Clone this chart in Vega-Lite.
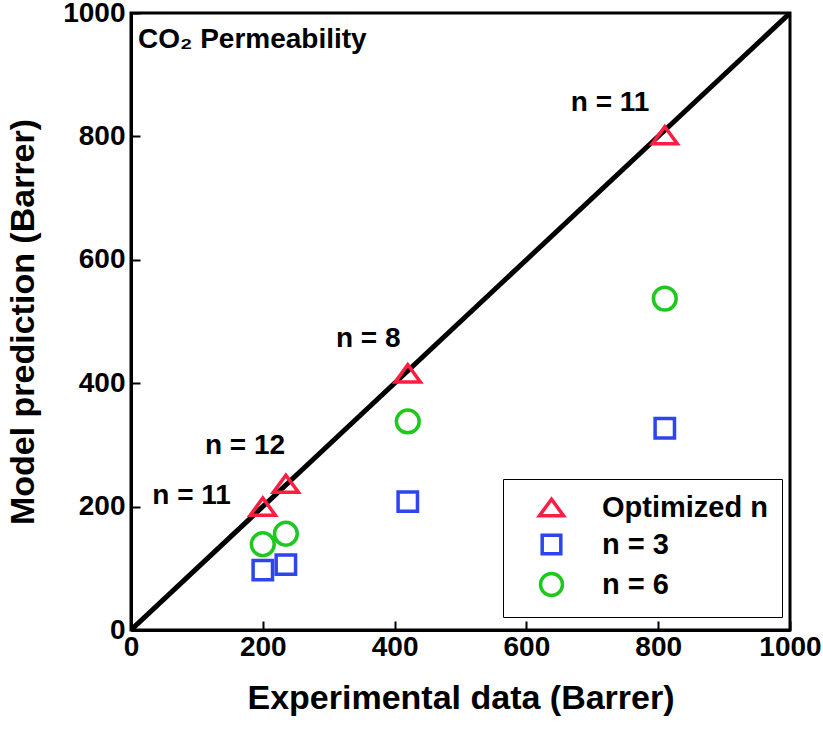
{
  "$schema": "https://vega.github.io/schema/vega-lite/v6.json",
  "width": 659,
  "height": 617,
  "autosize": {"type": "none"},
  "padding": {"left": 131, "top": 13, "right": 33, "bottom": 103},
  "background": "white",
  "config": {
    "font": "Liberation Sans",
    "view": {"stroke": "black", "strokeWidth": 3},
    "legend": {"strokeColor": "black", "fillColor": "white"},
    "axis": {
      "grid": false,
      "domainColor": "black",
      "domainWidth": 3,
      "tickColor": "black",
      "tickWidth": 2,
      "tickSize": -9,
      "labelFlush": false,
      "labelFont": "Liberation Sans",
      "labelFontWeight": "bold",
      "labelFontSize": 28,
      "labelColor": "black",
      "titleFont": "Liberation Sans",
      "titleFontWeight": "bold",
      "titleFontSize": 34,
      "titleColor": "black"
    }
  },
  "datasets": {
    "diag": [{"x": 0, "y": 0}, {"x": 1000, "y": 1000}],
    "pts": [
      {"exp": 200, "pred": 200, "series": "Optimized n"},
      {"exp": 235, "pred": 237, "series": "Optimized n"},
      {"exp": 420, "pred": 416, "series": "Optimized n"},
      {"exp": 810, "pred": 802, "series": "Optimized n"},
      {"exp": 200, "pred": 97, "series": "n = 3"},
      {"exp": 235, "pred": 106, "series": "n = 3"},
      {"exp": 420, "pred": 208, "series": "n = 3"},
      {"exp": 810, "pred": 327, "series": "n = 3"},
      {"exp": 200, "pred": 139, "series": "n = 6"},
      {"exp": 235, "pred": 156, "series": "n = 6"},
      {"exp": 420, "pred": 338, "series": "n = 6"},
      {"exp": 810, "pred": 537, "series": "n = 6"}
    ],
    "labels": [
      {"x": 92, "y": 217, "text": "n = 11"},
      {"x": 173, "y": 298, "text": "n = 12"},
      {"x": 360, "y": 471, "text": "n = 8"},
      {"x": 727, "y": 854, "text": "n = 11"}
    ],
    "title": [{"x": 10.5, "y": 957, "text": "CO₂ Permeability"}]
  },
  "layer": [
    {
      "data": {"name": "diag"},
      "mark": {"type": "line", "color": "black", "strokeWidth": 5, "clip": true},
      "encoding": {
        "x": {"field": "x", "type": "quantitative", "scale": {"domain": [0, 1000]},
          "axis": {"values": [0, 200, 400, 600, 800, 1000], "format": "d", "title": "Experimental data (Barrer)", "labelPadding": 12, "titlePadding": 20}},
        "y": {"field": "y", "type": "quantitative", "scale": {"domain": [0, 1000]},
          "axis": {"values": [0, 200, 400, 600, 800, 1000], "format": "d", "title": "Model prediction (Barrer)", "labelPadding": 15, "titlePadding": 22}}
      }
    },
    {
      "data": {"name": "pts"},
      "mark": {"type": "point", "filled": false, "strokeWidth": 3.5, "size": 520, "opacity": 1},
      "encoding": {
        "x": {"field": "exp", "type": "quantitative"},
        "y": {"field": "pred", "type": "quantitative"},
        "color": {"field": "series", "type": "nominal",
          "scale": {"domain": ["Optimized n", "n = 3", "n = 6"], "range": ["#ff1e42", "#2c45ee", "#1ec81e"]},
          "legend": {
            "title": null, "orient": "none", "legendX": 372, "legendY": 466,
            "padding": 14, "symbolOffset": 20, "labelOffset": 36, "labelLimit": 400,
            "labelFontSize": 29, "labelFontWeight": "bold", "labelColor": "black", "labelFont": "Liberation Sans",
            "symbolSize": 480, "symbolStrokeWidth": 3.5, "rowPadding": 5
          }},
        "shape": {"field": "series", "type": "nominal",
          "scale": {"domain": ["Optimized n", "n = 3", "n = 6"],
            "range": ["M-1.1,0.75L1.1,0.75L0,-0.75Z", "M-0.85,-0.85H0.85V0.85H-0.85Z", "circle"]}}
      }
    },
    {
      "data": {"name": "labels"},
      "mark": {"type": "text", "fontSize": 28, "fontWeight": "bold", "font": "Liberation Sans", "color": "black", "baseline": "middle", "align": "center"},
      "encoding": {
        "x": {"field": "x", "type": "quantitative"},
        "y": {"field": "y", "type": "quantitative"},
        "text": {"field": "text"}
      }
    },
    {
      "data": {"name": "title"},
      "mark": {"type": "text", "fontSize": 28, "fontWeight": "bold", "font": "Liberation Sans", "color": "black", "baseline": "middle", "align": "left"},
      "encoding": {
        "x": {"field": "x", "type": "quantitative"},
        "y": {"field": "y", "type": "quantitative"},
        "text": {"field": "text"}
      }
    }
  ]
}
